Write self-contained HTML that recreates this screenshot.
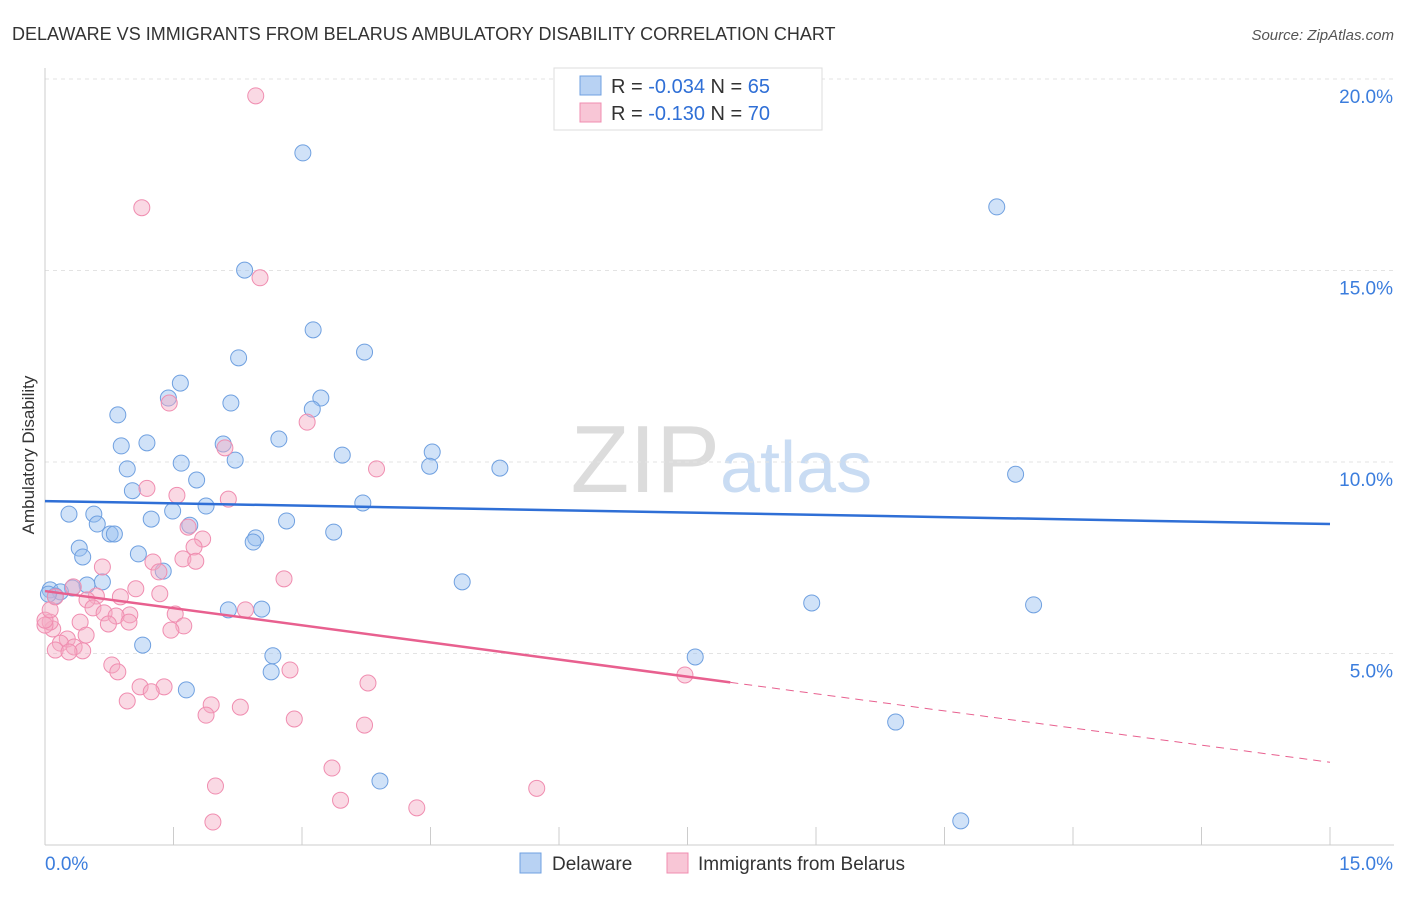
<!DOCTYPE html>
<html><head><meta charset="utf-8"><style>
body{margin:0;background:#fff;font-family:"Liberation Sans",sans-serif}
svg text{font-family:"Liberation Sans",sans-serif}
</style></head><body>
<svg width="1406" height="892" viewBox="0 0 1406 892" id="chart">
<text x="12" y="40" font-size="18" fill="#333">DELAWARE VS IMMIGRANTS FROM BELARUS AMBULATORY DISABILITY CORRELATION CHART</text>
<text x="1394" y="40" font-size="15" fill="#555" font-style="italic" text-anchor="end">Source: ZipAtlas.com</text>
<text x="720" y="492" font-size="96" fill="#dcdcdc" text-anchor="end" font-family="Liberation Serif">ZIP</text>
<text x="720" y="492" font-size="72" fill="#c9dcf3">atlas</text>
<g id="grid"></g>
<g id="axes"></g>
<g id="pts"></g>
<g id="lines"></g>
<text x="34" y="455" font-size="17" fill="#333" text-anchor="middle" transform="rotate(-90 34 455)">Ambulatory Disability</text>
<g>
<rect x="554" y="68" width="268" height="62" fill="#fff" stroke="#ddd"/>
<rect x="580" y="76" width="21" height="19" fill="#b8d2f3" stroke="#6fa0e0"/>
<text x="611" y="93" font-size="20" fill="#333">R = <tspan fill="#2f6fd6">-0.034</tspan>   N = <tspan fill="#2f6fd6">65</tspan></text>
<rect x="580" y="103" width="21" height="19" fill="#f8c6d6" stroke="#f08db0"/>
<text x="611" y="120" font-size="20" fill="#333">R =  <tspan fill="#2f6fd6">-0.130</tspan>   N = <tspan fill="#2f6fd6">70</tspan></text>
</g>
<g>
<rect x="520" y="853" width="21" height="20" fill="#b8d2f3" stroke="#6fa0e0"/>
<text x="552" y="870" font-size="19" fill="#333">Delaware</text>
<rect x="667" y="853" width="21" height="20" fill="#f8c6d6" stroke="#f08db0"/>
<text x="698" y="870" font-size="19" fill="#333">Immigrants from Belarus</text>
</g>
</svg>
<script>
const yTicks=[5,10,15,20];
const xTickLabels=["0.0%","15.0%"];
const blueX=[6.18,3.01,11.11,2.33,3.13,3.73,2.26,1.58,1.44,3.22,2.17,3.12,0.85,2.08,2.73,1.19,0.89,4.52,2.22,3.47,1.59,4.49,0.96,5.31,11.33,1.77,1.02,3.71,1.88,0.28,0.57,1.24,1.49,2.82,0.61,1.69,0.76,0.81,3.37,2.46,2.43,0.40,1.09,0.44,1.38,0.67,4.87,0.49,0.32,0.06,0.18,0.12,8.95,11.54,2.14,2.53,1.14,2.66,7.59,2.64,1.65,9.93,3.91,10.69,0.04];
const blueY=[19.59,18.07,16.66,15.01,13.45,12.87,12.72,12.06,11.67,11.67,11.54,11.38,11.23,10.47,10.60,10.50,10.42,10.26,10.05,10.18,9.97,9.89,9.82,9.84,9.68,9.53,9.25,8.93,8.85,8.64,8.64,8.51,8.72,8.46,8.38,8.35,8.12,8.12,8.17,8.02,7.91,7.75,7.60,7.52,7.15,6.87,6.87,6.79,6.71,6.66,6.61,6.50,6.32,6.27,6.14,6.16,5.22,4.94,4.91,4.52,4.05,3.21,1.67,0.63,6.55];
const pinkX=[2.46,1.13,2.51,1.45,3.06,2.10,3.87,1.19,1.54,2.14,1.67,1.84,1.74,1.61,1.76,1.26,0.67,1.33,2.79,0.33,1.06,1.34,0.60,0.88,0.49,0.56,0.69,1.52,0.99,0.83,0.98,0.41,0.74,1.62,1.47,0.09,0.06,0.48,0.26,0.18,0.34,0.44,0.12,0.28,0.78,2.86,0.85,3.77,1.11,1.39,1.24,0.96,1.94,2.28,1.88,2.91,3.73,3.35,1.99,3.45,5.74,4.34,1.96,7.47,2.34,0.0,0.0,0.06,0.12];
const pinkY=[19.56,16.64,14.81,11.54,11.04,10.37,9.82,9.31,9.13,9.03,8.30,7.99,7.78,7.47,7.41,7.39,7.26,7.13,6.95,6.74,6.69,6.56,6.50,6.48,6.40,6.19,6.06,6.03,6.01,5.98,5.82,5.82,5.77,5.72,5.61,5.64,5.82,5.48,5.38,5.27,5.17,5.07,5.09,5.04,4.70,4.57,4.52,4.23,4.13,4.13,4.00,3.76,3.66,3.60,3.39,3.29,3.13,2.01,1.54,1.17,1.48,0.97,0.60,4.44,6.14,5.74,5.87,6.14,6.48];
const blueFit=[8.98,8.38];
const pinkFit=[6.63,2.16];
const pinkSolidEnd=8.0;
const NS="http://www.w3.org/2000/svg";
const X0=45,X1=1330,Y0=845,PX=191.5/5;
const sx=v=>X0+(v/15)*(X1-X0), sy=v=>Y0-v*PX;
function mk(t,a,p){const e=document.createElementNS(NS,t);for(const k in a)e.setAttribute(k,a[k]);p.appendChild(e);return e;}
const grid=document.getElementById('grid'),axes=document.getElementById('axes');
yTicks.forEach(v=>{
 const l=mk('line',{x1:X0,x2:1394,y1:sy(v),y2:sy(v),stroke:'#e3e3e3','stroke-dasharray':'4,4'},grid);
 
 
 const t=mk('text',{x:1393,y:sy(v)+24,'font-size':19,fill:'#3b7ddd','text-anchor':'end'},axes);
 t.textContent=v.toFixed(1)+'%';
 
 
});
const ax=mk('line',{x1:X0,x2:X0,y1:68,y2:Y0,stroke:'#ccc'},axes);


const bx=mk('line',{x1:X0,x2:1394,y1:Y0,y2:Y0,stroke:'#ccc'},axes);


for(let i=1;i<=10;i++){const v=i*1.5;const t=mk('line',{x1:sx(v),x2:sx(v),y1:Y0-18,y2:Y0,stroke:'#ccc'},axes);
 
 }
const xl0=mk('text',{x:45,y:870,'font-size':19,fill:'#3b7ddd'},axes);xl0.textContent=xTickLabels[0];


const xl1=mk('text',{x:1393,y:870,'font-size':19,fill:'#3b7ddd','text-anchor':'end'},axes);xl1.textContent=xTickLabels[1];


const pts=document.getElementById('pts');
blueX.forEach((x,i)=>{const c=mk('circle',{cx:sx(x),cy:sy(blueY[i]),r:8,fill:'rgba(150,190,240,0.45)',stroke:'#6fa0e0','stroke-width':1},pts);
 
 });
pinkX.forEach((x,i)=>{const c=mk('circle',{cx:sx(x),cy:sy(pinkY[i]),r:8,fill:'rgba(245,170,195,0.45)',stroke:'#f08db0','stroke-width':1},pts);
 
 });
const lines=document.getElementById('lines');
const bl=mk('line',{x1:sx(0),y1:sy(blueFit[0]),x2:sx(15),y2:sy(blueFit[1]),stroke:'#2f6fd6','stroke-width':2.5},lines);


const pf=v=>pinkFit[0]+(pinkFit[1]-pinkFit[0])*v/15;
const pl=mk('line',{x1:sx(0),y1:sy(pf(0)),x2:sx(pinkSolidEnd),y2:sy(pf(pinkSolidEnd)),stroke:'#e8608f','stroke-width':2.5},lines);


const pd=mk('line',{x1:sx(pinkSolidEnd),y1:sy(pf(pinkSolidEnd)),x2:sx(15),y2:sy(pf(15)),stroke:'#e8608f','stroke-width':1,'stroke-dasharray':'8,6'},lines);


</script>
</body></html>
